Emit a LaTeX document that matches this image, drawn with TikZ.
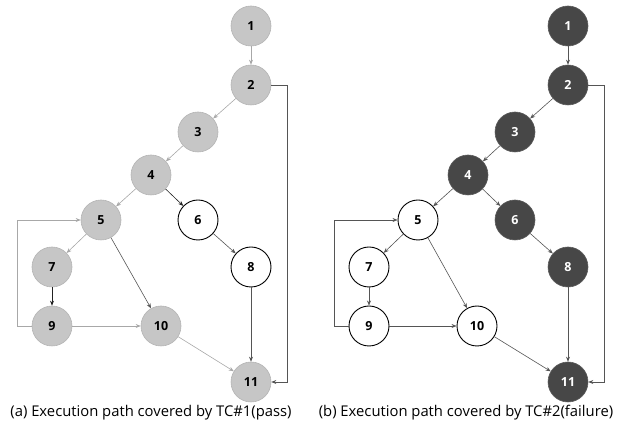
\documentclass[tikz,border=0pt]{standalone}
\usepackage{fontspec}
\setmainfont{Open Sans}
\usetikzlibrary{arrows.meta}
\definecolor{lgfill}{HTML}{C6C6C6}
\definecolor{lgdraw}{HTML}{B4B4B4}
\definecolor{dkfill}{HTML}{474747}
\definecolor{dkdraw}{HTML}{5C5C5C}
\definecolor{egray}{HTML}{A8A8A8}
\definecolor{edark}{HTML}{555555}
\definecolor{eblack}{HTML}{222222}
\tikzset{
  nd/.style={circle, minimum size=40pt, inner sep=0pt, font=\fontsize{12.5pt}{14pt}\selectfont\bfseries},
  lg/.style={nd, fill=lgfill, draw=lgdraw, line width=0.6pt, text=black},
  dk/.style={nd, fill=dkfill, draw=dkdraw, line width=0.6pt, text=white},
  wh/.style={nd, fill=white, draw=black, line width=0.9pt, text=black},
  ed/.style={-{Stealth[length=5pt,width=4pt]}, line width=0.6pt},
  eg/.style={ed, draw=egray},
  ek/.style={ed, draw=edark},
  eb/.style={ed, draw=eblack},
  captxt/.style={font=\fontsize{14.8pt}{17pt}\selectfont}
}
\begin{document}
\begin{tikzpicture}[x=1pt,y=-1pt]
\useasboundingbox (0,0) rectangle (622,427);
% ---------- panel (a)
\node[lg] (a1) at (251,26) {1};
\node[lg] (a2) at (251,85) {2};
\node[lg] (a3) at (198,132) {3};
\node[lg] (a4) at (151,175) {4};
\node[lg] (a5) at (101,220) {5};
\node[wh] (a6) at (198,220) {6};
\node[lg] (a7) at (52,267) {7};
\node[wh] (a8) at (251,267) {8};
\node[lg] (a9) at (52,326) {9};
\node[lg] (a10) at (161,326) {10};
\node[lg] (a11) at (251,382) {11};
\coordinate (ar1) at (287,85);
\coordinate (ar2) at (287,382);
\coordinate (al1) at (17,326);
\coordinate (al2) at (17,220);
\draw[eg] (a1) -- (a2);
\draw[eg] (a2) -- (a3);
\draw[eg] (a3) -- (a4);
\draw[eg] (a4) -- (a5);
\draw[eb] (a4) -- (a6);
\draw[eg] (a5) -- (a7);
\draw[ek] (a5) -- (a10);
\draw[ek] (a6) -- (a8);
\draw[eb] (a7) -- (a9);
\draw[ek] (a8) -- (a11);
\draw[eg] (a9) -- (a10);
\draw[eg] (a10) -- (a11);
\draw[eg] (a9.west) -- (al1) -- (al2) -- (a5.west);
\draw[ek] (a2.east) -- (ar1) -- (ar2) -- (a11.east);
\node[captxt] (capa) at (151,413) {(a) Execution path covered by TC\#1(pass)};
% ---------- panel (b)
\node[dk] (b1) at (568,26) {1};
\node[dk] (b2) at (568,85) {2};
\node[dk] (b3) at (515,132) {3};
\node[dk] (b4) at (468,175) {4};
\node[wh] (b5) at (418,220) {5};
\node[dk] (b6) at (515,220) {6};
\node[wh] (b7) at (369,267) {7};
\node[dk] (b8) at (568,267) {8};
\node[wh] (b9) at (369,326) {9};
\node[wh] (b10) at (477,326) {10};
\node[dk] (b11) at (568,382) {11};
\coordinate (br1) at (604,85);
\coordinate (br2) at (604,382);
\coordinate (bl1) at (334,326);
\coordinate (bl2) at (334,220);
\draw[ek] (b1) -- (b2);
\draw[ek] (b2) -- (b3);
\draw[ek] (b3) -- (b4);
\draw[ek] (b4) -- (b5);
\draw[ek] (b4) -- (b6);
\draw[ek] (b5) -- (b7);
\draw[ek] (b5) -- (b10);
\draw[ek] (b6) -- (b8);
\draw[ek] (b7) -- (b9);
\draw[ek] (b8) -- (b11);
\draw[ek] (b9) -- (b10);
\draw[ek] (b10) -- (b11);
\draw[ek] (b9.west) -- (bl1) -- (bl2) -- (b5.west);
\draw[ek] (b2.east) -- (br1) -- (br2) -- (b11.east);
\node[captxt] (capb) at (466,413) {(b) Execution path covered by TC\#2(failure)};
\end{tikzpicture}
\end{document}
